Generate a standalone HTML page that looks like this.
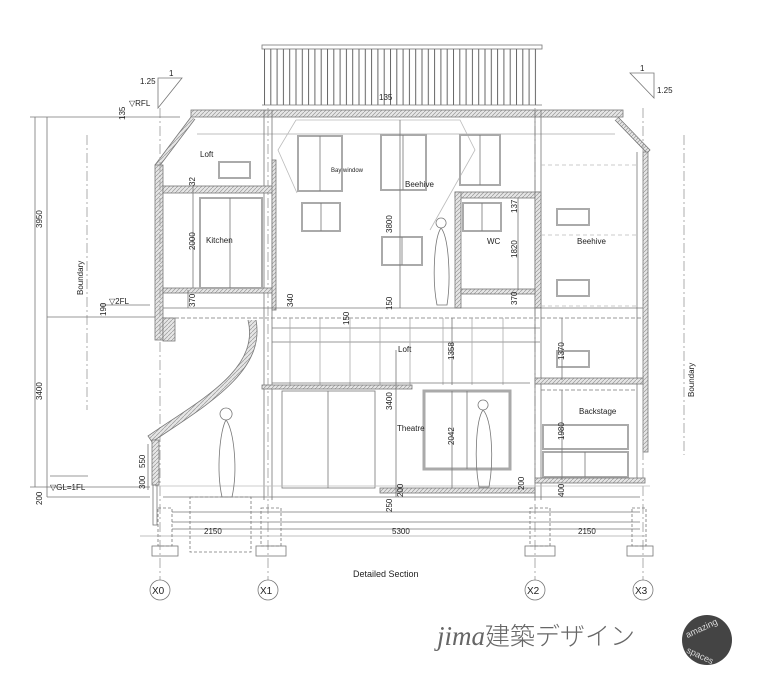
<!DOCTYPE html>
<html><head><meta charset="utf-8"><style>
html,body{margin:0;padding:0;background:#fff;}
svg{display:block;}
text{font-family:"Liberation Sans",sans-serif;fill:#222;}
</style></head><body>
<svg width="760" height="682" viewBox="0 0 760 682" xmlns="http://www.w3.org/2000/svg">
<defs>
<pattern id="bars" x="264" y="0" width="6.3" height="10" patternUnits="userSpaceOnUse"><rect x="0" y="0" width="1" height="10" fill="#666"/></pattern>
<pattern id="hatch" width="4" height="4" patternUnits="userSpaceOnUse"><rect width="4" height="4" fill="#e6e6e6"/><path d="M0 4L4 0" stroke="#999" stroke-width="0.7"/></pattern>
</defs>
<g fill="none" stroke="#777" stroke-width="0.8">
<rect x="262" y="45" width="280" height="4"/>
<rect x="264" y="49" width="276" height="56" fill="url(#bars)" stroke="none"/>
<line x1="262" y1="105" x2="542" y2="105"/>
<rect x="191" y="110" width="432" height="7" fill="url(#hatch)"/>
<line x1="197" y1="134" x2="615" y2="134" stroke="#aaa"/>
<path d="M191 117 L155 165 L158 168 L195 119" fill="url(#hatch)"/>
<path d="M618 117 L650 150 L647 153 L615 120" fill="url(#hatch)"/>
<rect x="155" y="165" width="8" height="175" fill="url(#hatch)"/>
<rect x="643" y="152" width="5" height="300" fill="url(#hatch)"/>
<line x1="637" y1="152" x2="637" y2="480"/>
<g stroke="#999" stroke-dasharray="10,3,2,3">
<line x1="160" y1="108" x2="160" y2="580"/>
<line x1="268" y1="108" x2="268" y2="580"/>
<line x1="535" y1="108" x2="535" y2="580"/>
<line x1="643" y1="108" x2="643" y2="580"/>
<line x1="87" y1="135" x2="87" y2="410"/>
<line x1="684" y1="135" x2="684" y2="455"/>
</g>
<line x1="264" y1="110" x2="264" y2="500"/><line x1="272" y1="110" x2="272" y2="500"/>
<line x1="535" y1="110" x2="535" y2="500"/><line x1="541" y1="110" x2="541" y2="500"/>
<rect x="219" y="162" width="31" height="16" stroke="#aaa" stroke-width="2"/>
<path d="M296 120 L278 150 L297 193 M296 120 L460 120 L475 150 L430 230" stroke="#bbb"/>
<rect x="298" y="136" width="44" height="55" stroke="#aaa" stroke-width="2"/><line x1="320" y1="136" x2="320" y2="191"/>
<rect x="381" y="135" width="45" height="55" stroke="#aaa" stroke-width="2"/><line x1="403" y1="135" x2="403" y2="190"/>
<rect x="302" y="203" width="38" height="28" stroke="#aaa" stroke-width="2"/><line x1="321" y1="203" x2="321" y2="231"/>
<rect x="382" y="237" width="40" height="28" stroke="#aaa" stroke-width="2"/><line x1="402" y1="237" x2="402" y2="265"/>
<rect x="460" y="135" width="40" height="50" stroke="#aaa" stroke-width="2"/><line x1="480" y1="135" x2="480" y2="185"/>
<rect x="163" y="186" width="110" height="7" fill="url(#hatch)"/>
<rect x="163" y="288" width="110" height="5" fill="url(#hatch)"/>
<rect x="200" y="198" width="62" height="90" stroke="#aaa" stroke-width="2"/><line x1="230" y1="198" x2="230" y2="288"/>
<rect x="272" y="160" width="4" height="150" fill="url(#hatch)"/>
<rect x="455" y="192" width="85" height="6" fill="url(#hatch)"/>
<rect x="455" y="192" width="6" height="116" fill="url(#hatch)"/>
<rect x="535" y="192" width="6" height="116" fill="url(#hatch)"/>
<rect x="461" y="289" width="74" height="5" fill="url(#hatch)"/>
<rect x="463" y="203" width="38" height="28" stroke="#aaa" stroke-width="2"/><line x1="482" y1="203" x2="482" y2="231"/>
<rect x="557" y="209" width="32" height="16" stroke="#aaa" stroke-width="2"/>
<rect x="557" y="280" width="32" height="16" stroke="#aaa" stroke-width="2"/>
<rect x="557" y="351" width="32" height="16" stroke="#aaa" stroke-width="2"/>
<g stroke="#bbb" stroke-dasharray="4,3"><line x1="541" y1="165" x2="637" y2="165"/><line x1="541" y1="235" x2="637" y2="235"/><line x1="541" y1="306" x2="637" y2="306"/></g>
<line x1="163" y1="308" x2="643" y2="308"/>
<line x1="163" y1="318" x2="643" y2="318" stroke-dasharray="4,2"/>
<line x1="272" y1="328" x2="540" y2="328"/>
<line x1="272" y1="342" x2="540" y2="342"/>
<rect x="163" y="318" width="12" height="23" fill="url(#hatch)"/>
<g stroke="#aaa"><line x1="290" y1="318" x2="290" y2="385"/><line x1="320" y1="318" x2="320" y2="385"/><line x1="350" y1="318" x2="350" y2="385"/><line x1="380" y1="318" x2="380" y2="385"/><line x1="410" y1="318" x2="410" y2="385"/><line x1="443" y1="318" x2="443" y2="385"/><line x1="472" y1="318" x2="472" y2="385"/><line x1="503" y1="318" x2="503" y2="385"/></g>
<rect x="262" y="385" width="150" height="4" fill="url(#hatch)"/>
<line x1="272" y1="383" x2="530" y2="383"/>
<path d="M248 320 C260 370 200 400 148 436 L152 442 C205 406 266 372 256 320" fill="url(#hatch)"/>
<rect x="152" y="440" width="7" height="45" fill="url(#hatch)"/>
<rect x="282" y="391" width="93" height="97"/><line x1="328" y1="391" x2="328" y2="488"/>
<rect x="424" y="391" width="86" height="78" stroke="#aaa" stroke-width="3"/><line x1="467" y1="391" x2="467" y2="469"/>
<rect x="535" y="378" width="108" height="6" fill="url(#hatch)"/>
<line x1="541" y1="390" x2="637" y2="390" stroke-dasharray="4,2"/>
<rect x="543" y="425" width="85" height="24" stroke="#aaa" stroke-width="2"/>
<rect x="543" y="452" width="85" height="25" stroke="#aaa" stroke-width="2"/><line x1="585" y1="452" x2="585" y2="477"/>
<rect x="535" y="478" width="110" height="5" fill="url(#hatch)"/>
<rect x="380" y="488" width="155" height="5" fill="url(#hatch)"/>
<line x1="163" y1="497" x2="640" y2="497"/>
<line x1="155" y1="486" x2="650" y2="486" stroke="#bbb"/>
<line x1="172" y1="512" x2="640" y2="512"/>
<line x1="172" y1="522" x2="640" y2="522"/>
<line x1="140" y1="536" x2="645" y2="536" stroke="#aaa"/>
<rect x="153" y="485" width="4" height="40"/>
<g>
<rect x="158" y="508" width="14" height="38" stroke-dasharray="3,2"/><rect x="152" y="546" width="26" height="10"/>
<rect x="261" y="508" width="20" height="38" stroke-dasharray="3,2"/><rect x="256" y="546" width="30" height="10"/>
<rect x="530" y="508" width="20" height="38" stroke-dasharray="3,2"/><rect x="525" y="546" width="30" height="10"/>
<rect x="632" y="508" width="14" height="38" stroke-dasharray="3,2"/><rect x="627" y="546" width="26" height="10"/>
<rect x="190" y="497" width="61" height="55" stroke-dasharray="3,2"/>
</g>
<path d="M226 420 a6 6 0 1 1 .1 0 C234 430 238 470 232 497 L222 497 C216 470 220 430 226 420Z"/>
<path d="M441 228 a5 5 0 1 1 .1 0 C449 238 451 280 447 305 L437 305 C432 280 434 238 441 228Z"/>
<path d="M483 410 a5 5 0 1 1 .1 0 C492 420 494 460 489 487 L479 487 C474 460 476 420 483 410Z"/>
<line x1="35" y1="117" x2="35" y2="487"/><line x1="47" y1="117" x2="47" y2="497"/>
<line x1="30" y1="117" x2="180" y2="117"/><line x1="47" y1="317" x2="155" y2="317"/>
<line x1="30" y1="487" x2="150" y2="487"/><line x1="47" y1="497" x2="150" y2="497"/>
<line x1="100" y1="305" x2="150" y2="305"/>
<line x1="50" y1="476" x2="88" y2="476"/>
<path d="M158 78 L182 78 L158 108 Z"/>
<path d="M630 73 L654 73 L654 98 Z"/>
<line x1="193" y1="185" x2="193" y2="288"/>
<line x1="188" y1="290" x2="188" y2="308"/>
<line x1="400" y1="120" x2="400" y2="308"/><line x1="396" y1="350" x2="396" y2="497"/>
<line x1="452" y1="318" x2="452" y2="385"/><line x1="452" y1="391" x2="452" y2="488"/>
<line x1="518" y1="198" x2="518" y2="290"/><line x1="562" y1="318" x2="562" y2="380"/><line x1="562" y1="390" x2="562" y2="480"/>
<line x1="172" y1="529" x2="640" y2="529"/>
<line x1="148" y1="444" x2="148" y2="490"/>
<circle cx="160" cy="590" r="10"/><circle cx="268" cy="590" r="10"/><circle cx="535" cy="590" r="10"/><circle cx="643" cy="590" r="10"/>
</g>
<g font-size="8">
<text x="200" y="157">Loft</text>
<text x="331" y="172" font-size="6">Bay window</text>
<text x="206" y="243">Kitchen</text>
<text x="405" y="187">Beehive</text>
<text x="487" y="244">WC</text>
<text x="577" y="244">Beehive</text>
<text x="398" y="352">Loft</text>
<text x="397" y="431">Theatre</text>
<text x="579" y="414">Backstage</text>
<text x="140" y="84">1.25</text><text x="169" y="76">1</text>
<text x="657" y="93">1.25</text><text x="640" y="71">1</text>
<text x="129" y="106">▽RFL</text>
<text x="109" y="304">▽2FL</text>
<text x="50" y="490">▽GL=1FL</text>
<text x="379" y="100">135</text>
<text x="204" y="534">2150</text>
<text x="392" y="534">5300</text>
<text x="578" y="534">2150</text>
<text x="353" y="577" font-size="9">Detailed Section</text>
<text x="152" y="594" font-size="10">X0</text><text x="260" y="594" font-size="10">X1</text><text x="527" y="594" font-size="10">X2</text><text x="635" y="594" font-size="10">X3</text>
<g font-size="8">
<text transform="translate(42,228) rotate(-90)">3950</text>
<text transform="translate(42,400) rotate(-90)">3400</text>
<text transform="translate(42,505) rotate(-90)">200</text>
<text transform="translate(125,120) rotate(-90)">135</text>
<text transform="translate(106,316) rotate(-90)">190</text>
<text transform="translate(83,295) rotate(-90)">Boundary</text>
<text transform="translate(694,397) rotate(-90)">Boundary</text>
<text transform="translate(195,186) rotate(-90)">32</text>
<text transform="translate(195,250) rotate(-90)">2000</text>
<text transform="translate(195,307) rotate(-90)">370</text>
<text transform="translate(293,307) rotate(-90)">340</text>
<text transform="translate(392,310) rotate(-90)">150</text>
<text transform="translate(349,325) rotate(-90)">150</text>
<text transform="translate(392,233) rotate(-90)">3800</text>
<text transform="translate(392,410) rotate(-90)">3400</text>
<text transform="translate(454,360) rotate(-90)">1358</text>
<text transform="translate(454,445) rotate(-90)">2042</text>
<text transform="translate(517,213) rotate(-90)">137</text>
<text transform="translate(517,258) rotate(-90)">1820</text>
<text transform="translate(517,305) rotate(-90)">370</text>
<text transform="translate(564,360) rotate(-90)">1370</text>
<text transform="translate(564,440) rotate(-90)">1980</text>
<text transform="translate(564,497) rotate(-90)">400</text>
<text transform="translate(524,490) rotate(-90)">200</text>
<text transform="translate(403,497) rotate(-90)">200</text>
<text transform="translate(392,512) rotate(-90)">250</text>
<text transform="translate(145,468) rotate(-90)">550</text>
<text transform="translate(145,489) rotate(-90)">300</text>
</g>
</g>
<text x="437" y="645" font-size="27" style="fill:#666;font-family:'Liberation Serif','Noto Sans CJK JP',serif;font-style:italic">jima<tspan style="font-style:normal;font-family:'Noto Sans CJK JP',sans-serif;font-weight:300" font-size="25">建築デザイン</tspan></text>
<circle cx="707" cy="640" r="25" fill="#444"/>
<text x="690" y="630" font-size="9" style="fill:#ddd" transform="rotate(-25 707 640)">amazing</text>
<text x="693" y="660" font-size="9" style="fill:#ddd" transform="rotate(25 707 640)">spaces</text>
</svg>
</body></html>
